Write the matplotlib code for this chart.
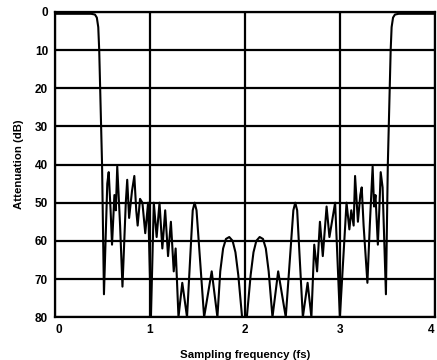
import matplotlib
matplotlib.use("Agg")
import matplotlib.pyplot as plt
import numpy as np

# frequency (multiples of fs) and attenuation (dB)
freq = [0.0, 0.38, 0.42, 0.44, 0.455, 0.465, 0.48, 0.495, 0.515,
        0.55, 0.565, 0.585, 0.60, 0.625, 0.64, 0.655, 0.685, 0.71, 0.745,
        0.76, 0.78, 0.81, 0.835, 0.855, 0.87, 0.895, 0.92, 0.95, 0.98,
        1.01, 1.04, 1.07, 1.10, 1.13, 1.16, 1.19, 1.22, 1.25, 1.27, 1.30,
        1.34, 1.39, 1.45, 1.47, 1.49, 1.57, 1.65, 1.71,
        1.74, 1.77, 1.80, 1.835, 1.87, 1.90, 1.93, 1.97,
        2.02, 2.06, 2.09, 2.12, 2.155, 2.19, 2.22, 2.25, 2.29,
        2.35, 2.43, 2.51, 2.53, 2.55, 2.61, 2.66, 2.70,
        2.73, 2.76, 2.79, 2.82, 2.86, 2.89, 2.95, 3.00, 3.07, 3.10, 3.12,
        3.145, 3.16, 3.19, 3.215, 3.23, 3.25, 3.29, 3.315, 3.345,
        3.36, 3.375, 3.40, 3.415, 3.43, 3.45, 3.485,
        3.505, 3.52, 3.535, 3.545, 3.56, 3.58, 3.62, 4.0]
atten = [0.5, 0.5, 0.7, 1.5, 4, 10, 25, 40, 74,
         45, 42, 52, 61, 48, 52, 40.5, 56, 72, 50,
         44, 54, 47, 43, 52, 56, 49, 50, 58, 50,
         80, 50, 59, 50, 62, 52, 64, 55, 68, 62, 80,
         71, 80, 52, 50, 52, 80, 68, 80,
         68, 62, 59.5, 59, 60, 63, 69, 80,
         80, 69, 63, 60, 59, 59.5, 62, 68, 80,
         68, 80, 52, 50, 52, 80, 71, 80,
         61, 68, 55, 64, 51, 59, 50, 80, 50, 57, 52,
         56, 43, 55, 48, 46, 56, 71, 56, 40.5,
         51, 48, 61, 52, 42, 46, 74,
         40, 25, 10, 4, 1.5, 0.7, 0.5, 0.5]

x_ticks = [0, 1, 2, 3, 4]
y_ticks = [0, 10, 20, 30, 40, 50, 60, 70, 80]

plt.rcParams.update({'font.family': 'Liberation Sans', 'font.weight': 'bold',
                     'font.size': 8.5})

fig = plt.figure(figsize=(4.37, 3.6), dpi=100)
ax = fig.add_axes([0.126, 0.119, 0.869, 0.848])

ax.plot(freq, atten, color='black', lw=1.5, zorder=3)

ax.set_xlim(0, 4)
ax.set_ylim(80, 0)
ax.set_xticks(x_ticks)
ax.set_yticks(y_ticks)
ax.grid(True, color='black', lw=1.6)
for s in ax.spines.values():
    s.set_linewidth(1.6)
ax.tick_params(length=0, pad=5)
ax.tick_params(axis='y', pad=5)
for lbl in ax.get_xticklabels():
    lbl.set_fontweight('bold')
ax.get_xticklabels()[0].set_ha('left')
ax.get_xticklabels()[-1].set_ha('right')

ax.set_xlabel('Sampling frequency (fs)', fontsize=8.2, fontweight='bold', labelpad=10)
ax.set_ylabel('Attenuation (dB)', fontsize=8.2, fontweight='bold', labelpad=8)

fig.savefig('out.png', dpi=100)
